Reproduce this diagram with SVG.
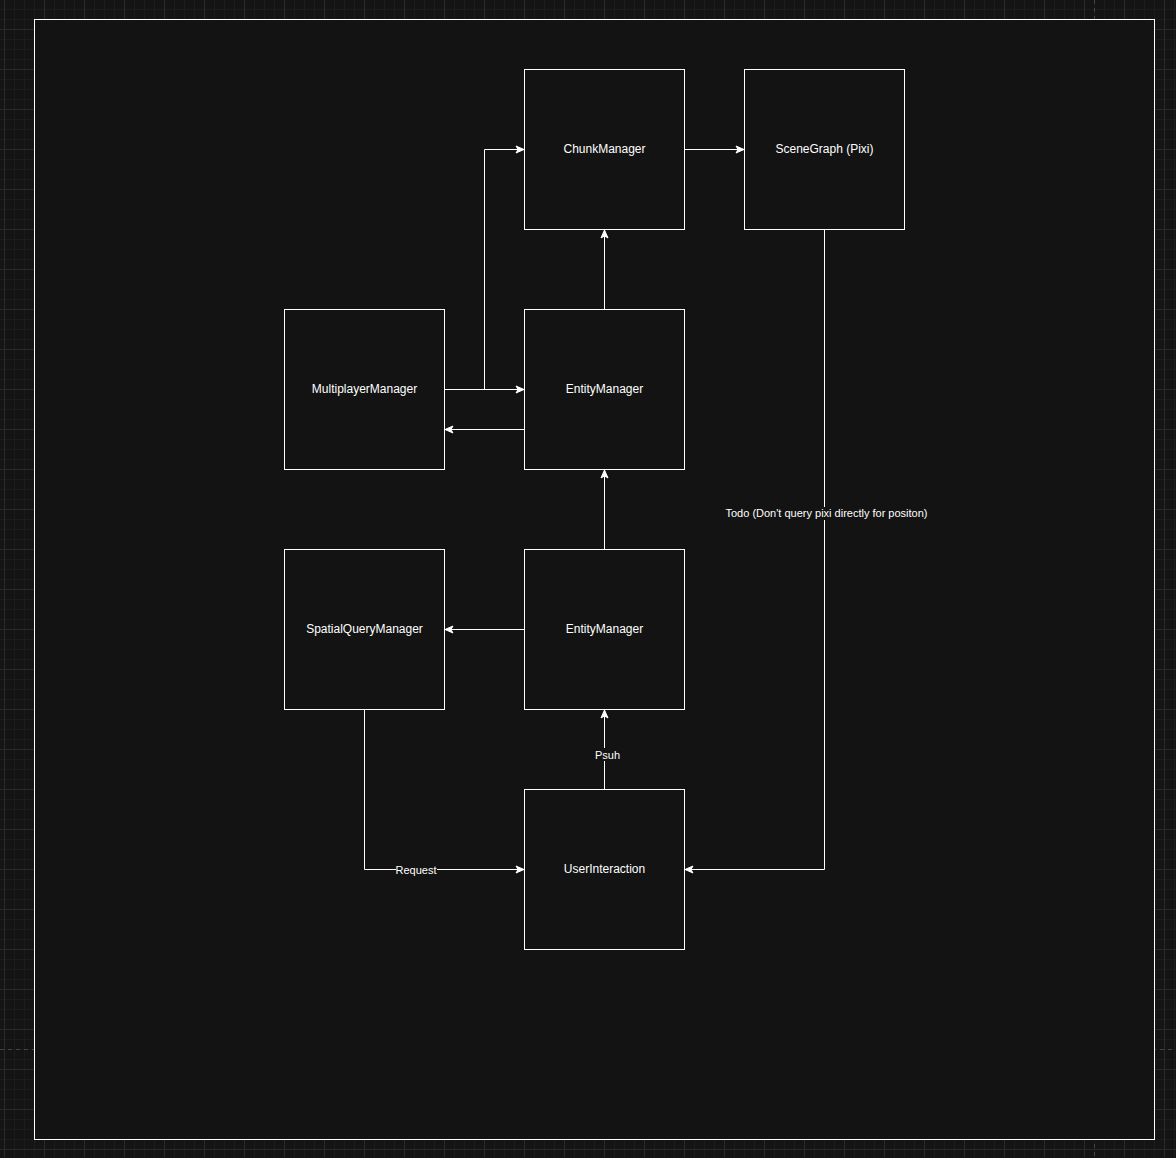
<svg xmlns="http://www.w3.org/2000/svg" width="1176" height="1158" viewBox="0 0 1176 1158">
<defs>
<pattern id="minor" patternUnits="userSpaceOnUse" x="4" y="29" width="10" height="10">
<path d="M0.5 0V10M0 0.5H10" stroke="#1c1c1c" stroke-width="1" fill="none"/>
</pattern>
<pattern id="major" patternUnits="userSpaceOnUse" x="4" y="29" width="40" height="40">
<path d="M0.5 0V40M0 0.5H40" stroke="#2a2a2a" stroke-width="1" fill="none"/>
</pattern>
<marker id="arr" viewBox="0 0 10 10" refX="9" refY="5" markerWidth="10" markerHeight="10" markerUnits="userSpaceOnUse" orient="auto">
<path d="M1 1.5L9 5L1 8.5L3 5Z" fill="#ffffff" stroke="#ffffff" stroke-width="1"/>
</marker>
<style>
.node rect{fill:#131313;stroke:#ffffff;stroke-width:1}
.node text{fill:#ffffff;font-family:"Liberation Sans",Arial,sans-serif;font-size:12px;text-anchor:middle}
.edge{fill:none;stroke:#ffffff;stroke-width:1;marker-end:url(#arr)}
.lbg{fill:#131313}
.lbl{fill:#ffffff;font-family:"Liberation Sans",Arial,sans-serif;font-size:11px;text-anchor:middle}
</style>
</defs>
<rect x="0" y="0" width="1176" height="1158" fill="#141414"/>
<rect x="0" y="0" width="1176" height="1158" fill="url(#minor)"/>
<rect x="0" y="0" width="1176" height="1158" fill="url(#major)"/>
<g id="pagebreaks" stroke="#444444" stroke-width="1" stroke-dasharray="4 4">
<path d="M1094.5 0V1158M0 1049.5H1176"/>
</g>
<rect id="frame" x="34.5" y="19.5" width="1120" height="1120" fill="#131313" stroke="#ffffff" stroke-width="1"/>
<g id="connectors">
<path class="edge" d="M444.5 389.5H524"/>
<path class="edge" d="M444.5 389.5H484.5V149.5H524"/>
<path class="edge" d="M524.5 429.5H445"/>
<path class="edge" d="M604.5 309.5V230"/>
<path class="edge" d="M684.5 149.5H744"/>
<path class="edge" d="M604.5 549.5V470"/>
<path class="edge" d="M524.5 629.5H445"/>
<path class="edge" d="M604.5 789.5V710"/>
<path class="edge" d="M364.5 709.5V869.5H524"/>
<path class="edge" d="M824.5 229.5V869.5H685"/>
<rect class="lbg" x="594" y="748" width="27" height="13"/>
<text class="lbl" x="607.5" y="759">Psuh</text>
<rect class="lbg" x="396" y="864" width="41" height="13"/>
<text class="lbl" x="416" y="874">Request</text>
<rect class="lbg" x="725" y="507" width="204" height="13"/>
<text class="lbl" x="826.5" y="517">Todo (Don't query pixi directly for positon)</text>
</g>
<g id="chunk" class="node"><rect x="524.5" y="69.5" width="160" height="160"/><text x="604.5" y="153">ChunkManager</text></g>
<g id="scenegraph" class="node"><rect x="744.5" y="69.5" width="160" height="160"/><text x="824.5" y="153">SceneGraph (Pixi)</text></g>
<g id="multiplayer" class="node"><rect x="284.5" y="309.5" width="160" height="160"/><text x="364.5" y="393">MultiplayerManager</text></g>
<g id="entity1" class="node"><rect x="524.5" y="309.5" width="160" height="160"/><text x="604.5" y="393">EntityManager</text></g>
<g id="spatial" class="node"><rect x="284.5" y="549.5" width="160" height="160"/><text x="364.5" y="633">SpatialQueryManager</text></g>
<g id="entity2" class="node"><rect x="524.5" y="549.5" width="160" height="160"/><text x="604.5" y="633">EntityManager</text></g>
<g id="userinteraction" class="node"><rect x="524.5" y="789.5" width="160" height="160"/><text x="604.5" y="873">UserInteraction</text></g>
</svg>
